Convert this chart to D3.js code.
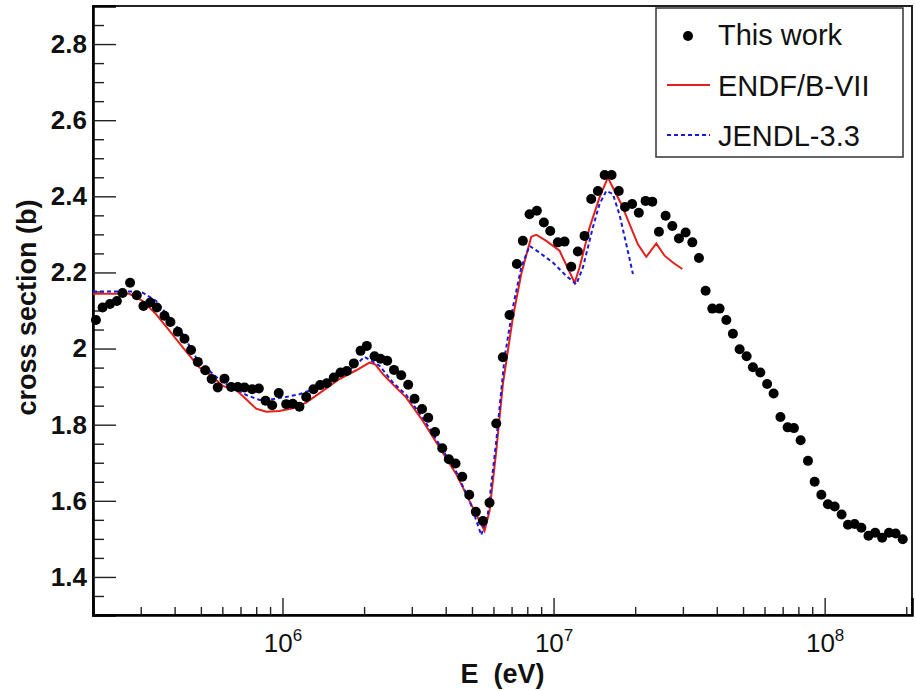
<!DOCTYPE html>
<html>
<head>
<meta charset="utf-8">
<script src="https://cdn.jsdelivr.net/npm/d3@7"></script>
<style>
  body { margin: 0; background: #fff; }
  svg text { font-family: "Liberation Sans", Arial, Helvetica, sans-serif; }
</style>
</head>
<body>
<svg id="chart" width="916" height="691"></svg>
<script>
// measured points, energy in eV and cross section in barn
var workE = [2.05e5, 2.17e5, 2.31e5, 2.45e5, 2.57e5, 2.74e5, 2.90e5, 3.07e5, 3.25e5, 3.44e5,
  3.67e5, 3.86e5, 4.11e5, 4.35e5, 4.60e5, 4.87e5, 5.19e5, 5.48e5, 5.77e5, 6.11e5,
  6.47e5, 6.84e5, 7.24e5, 7.73e5, 8.18e5, 8.66e5, 9.16e5, 9.69e5, 1.032e6, 1.091e6,
  1.155e6, 1.223e6, 1.301e6, 1.377e6, 1.457e6, 1.546e6, 1.637e6, 1.727e6, 1.833e6, 1.941e6,
  2.047e6, 2.185e6, 2.299e6, 2.434e6, 2.578e6, 2.742e6, 2.909e6, 3.070e6, 3.272e6, 3.449e6,
  3.654e6, 3.885e6, 4.109e6, 4.349e6, 4.604e6, 4.885e6, 5.167e6, 5.484e6, 5.804e6, 6.146e6,
  6.500e6, 6.880e6, 7.321e6, 7.703e6, 8.153e6, 8.679e6, 9.209e6, 9.723e6, 1.037e7, 1.098e7,
  1.162e7, 1.229e7, 1.301e7, 1.377e7, 1.457e7, 1.543e7, 1.637e7, 1.740e7, 1.835e7, 1.949e7,
  2.063e7, 2.185e7, 2.313e7, 2.447e7, 2.590e7, 2.742e7, 2.900e7, 3.070e7, 3.250e7, 3.438e7,
  3.638e7, 3.851e7, 4.097e7, 4.338e7, 4.587e7, 4.857e7, 5.154e7, 5.437e7, 5.790e7, 6.134e7,
  6.483e7, 6.869e7, 7.302e7, 7.703e7, 8.153e7, 8.679e7, 9.186e7, 9.723e7, 1.028e8, 1.089e8,
  1.155e8, 1.219e8, 1.290e8, 1.366e8, 1.451e8, 1.536e8, 1.630e8, 1.727e8, 1.828e8, 1.941e8];
var workXs = [2.075, 2.108, 2.117, 2.125, 2.146, 2.173, 2.140, 2.112, 2.121, 2.108,
  2.086, 2.070, 2.044, 2.026, 1.996, 1.965, 1.943, 1.920, 1.898, 1.921,
  1.899, 1.899, 1.898, 1.893, 1.895, 1.863, 1.851, 1.883, 1.854, 1.855,
  1.847, 1.873, 1.893, 1.904, 1.909, 1.924, 1.937, 1.941, 1.961, 1.994,
  2.007, 1.980, 1.973, 1.968, 1.944, 1.930, 1.905, 1.868, 1.841, 1.818,
  1.781, 1.738, 1.709, 1.698, 1.663, 1.616, 1.571, 1.547, 1.595, 1.803,
  1.977, 2.088, 2.222, 2.283, 2.353, 2.362, 2.331, 2.309, 2.279, 2.281,
  2.215, 2.255, 2.296, 2.393, 2.414, 2.456, 2.456, 2.414, 2.372, 2.380,
  2.357, 2.388, 2.386, 2.307, 2.349, 2.322, 2.289, 2.305, 2.279, 2.238,
  2.152, 2.105, 2.105, 2.075, 2.039, 1.998, 1.980, 1.951, 1.937, 1.907,
  1.882, 1.820, 1.793, 1.791, 1.759, 1.705, 1.650, 1.616, 1.591, 1.585,
  1.564, 1.537, 1.539, 1.529, 1.508, 1.516, 1.503, 1.516, 1.514, 1.499];

// ENDF/B-VII evaluation
var endfE = [2.0e5, 2.725e5, 3.051e5, 3.42e5, 3.828e5, 4.287e5, 4.94e5, 5.378e5, 6.021e5, 6.748e5,
  7.346e5, 7.998e5, 8.707e5, 9.748e5, 1.091e6, 1.223e6, 1.408e6, 1.623e6, 1.871e6, 2.094e6,
  2.203e6, 2.345e6, 2.553e6, 2.861e6, 3.294e6, 3.796e6, 4.375e6, 5.037e6, 5.565e6, 5.804e6,
  6.146e6, 6.5e6, 7.076e6, 7.599e6, 8.276e6, 8.635e6, 9.399e6, 1.052e7, 1.196e7, 1.247e7,
  1.358e7, 1.478e7, 1.586e7, 1.679e7, 1.777e7, 1.907e7, 2.047e7, 2.198e7, 2.393e7, 2.568e7,
  2.755e7, 2.985e7];
var endfXs = [2.144, 2.144, 2.125, 2.090, 2.047, 2.003, 1.950, 1.933, 1.902, 1.891,
  1.867, 1.842, 1.834, 1.836, 1.843, 1.858, 1.889, 1.920, 1.943, 1.963,
  1.958, 1.933, 1.906, 1.871, 1.810, 1.740, 1.670, 1.582, 1.521, 1.573,
  1.731, 1.906, 2.081, 2.196, 2.294, 2.299, 2.283, 2.257, 2.173, 2.213,
  2.318, 2.397, 2.449, 2.414, 2.380, 2.327, 2.274, 2.241, 2.276, 2.244,
  2.226, 2.209];

// JENDL-3.3 evaluation
var jendlE = [2.0e5, 2.844e5, 3.051e5, 3.42e5, 3.828e5, 4.287e5, 4.803e5, 5.378e5, 6.021e5, 6.748e5,
  7.346e5, 8.226e5, 9.209e5, 1.032e6, 1.155e6, 1.294e6, 1.45e6, 1.623e6, 1.817e6, 2.007e6,
  2.28e6, 2.553e6, 2.861e6, 3.294e6, 3.796e6, 4.375e6, 4.898e6, 5.411e6, 5.722e6, 6.146e6,
  6.595e6, 7.076e6, 7.599e6, 8.153e6, 8.879e6, 9.94e6, 1.114e7, 1.213e7, 1.283e7, 1.396e7,
  1.478e7, 1.565e7, 1.655e7, 1.752e7, 1.855e7, 1.962e7];
var jendlXs = [2.150, 2.150, 2.147, 2.125, 2.081, 2.038, 1.976, 1.941, 1.911, 1.893,
  1.878, 1.865, 1.867, 1.873, 1.880, 1.893, 1.911, 1.928, 1.950, 1.978,
  1.955, 1.911, 1.878, 1.818, 1.747, 1.676, 1.600, 1.510, 1.565, 1.757,
  1.976, 2.108, 2.213, 2.270, 2.252, 2.226, 2.191, 2.169, 2.213, 2.318,
  2.380, 2.414, 2.406, 2.351, 2.274, 2.196];

var yMajorTicks = [1.4, 1.6, 1.8, 2, 2.2, 2.4, 2.6, 2.8];
var yMinorTicks = [1.3, 1.35, 1.45, 1.5, 1.55, 1.65, 1.7, 1.75, 1.85, 1.9, 1.95, 2.05, 2.1, 2.15,
  2.25, 2.3, 2.35, 2.45, 2.5, 2.55, 2.65, 2.7, 2.75, 2.85];
var xMajorTicks = [1e6, 1e7, 1e8];
var xMinorTicks = [2e5, 3e5, 4e5, 5e5, 6e5, 7e5, 8e5, 9e5, 2e6, 3e6, 4e6, 5e6, 6e6, 7e6, 8e6, 9e6,
  2e7, 3e7, 4e7, 5e7, 6e7, 7e7, 8e7, 9e7, 2e8];
var legendNames = ["This work", "ENDF/B-VII", "JENDL-3.3"];

// plot area
var margin = {top: 6, right: 4, bottom: 76, left: 93},
  width = 916 - margin.left - margin.right,
  height = 691 - margin.top - margin.bottom;

var x = d3.scaleLog().domain([2e5, 2.1e8]).range([0, width]);
var y = d3.scaleLinear().domain([1.3, 2.9]).range([height, 0]);

var svg = d3.select("#chart")
  .append("g")
  .attr("transform", "translate(" + margin.left + "," + margin.top + ")");

// frame
svg.append("rect")
  .attr("width", width)
  .attr("height", height)
  .attr("fill", "none")
  .attr("stroke", "#222")
  .attr("stroke-width", 2);

// y axis, ticks pointing inward
svg.append("g")
  .call(d3.axisLeft(y).tickValues(yMinorTicks).tickSize(-11).tickFormat(""))
  .call(function(g) { g.select(".domain").remove(); });
var yAxis = svg.append("g")
  .call(d3.axisLeft(y).tickValues(yMajorTicks).tickSize(-23).tickPadding(6)
    .tickFormat(d3.format("~g")));
yAxis.select(".domain").attr("stroke-width", 2.6);
yAxis.selectAll(".tick line").attr("stroke-width", 1.6);
yAxis.selectAll("text")
  .attr("font-size", 26)
  .attr("font-weight", "bold")
  .attr("fill", "#111");
svg.selectAll(".tick line").attr("stroke", "#222");

// x axis
var xMinor = svg.append("g")
  .attr("transform", "translate(0," + height + ")")
  .call(d3.axisBottom(x).tickValues(xMinorTicks).tickSize(-8).tickFormat(""));
xMinor.select(".domain").remove();
var xAxis = svg.append("g")
  .attr("transform", "translate(0," + height + ")")
  .call(d3.axisBottom(x).tickValues(xMajorTicks).tickSize(-17).tickFormat(""));
xAxis.select(".domain").attr("stroke-width", 2.6);
svg.selectAll(".tick line").attr("stroke", "#222").attr("stroke-width", 1.4);

// x labels as 10^n
xAxis.selectAll(".tick").each(function(d) {
  var t = d3.select(this).append("text")
    .attr("y", 37)
    .attr("text-anchor", "middle")
    .attr("fill", "#111")
    .attr("font-size", 26);
  t.append("tspan").text("10");
  t.append("tspan")
    .attr("font-size", 17)
    .attr("dy", -11)
    .text(Math.round(Math.log10(d)));
});

// axis titles
svg.append("text")
  .attr("x", width / 2)
  .attr("y", height + 68)
  .attr("text-anchor", "middle")
  .attr("font-size", 27)
  .attr("font-weight", "bold")
  .attr("fill", "#111")
  .style("white-space", "pre")
  .text("E  (eV)");
svg.append("text")
  .attr("transform", "rotate(-90)")
  .attr("x", -height / 2 + 3)
  .attr("y", -57)
  .attr("text-anchor", "middle")
  .attr("font-size", 27)
  .attr("font-weight", "bold")
  .attr("fill", "#111")
  .text("cross section (b)");

// curves
var endf = endfE.map(function(e, i) { return [e, endfXs[i]]; });
var jendl = jendlE.map(function(e, i) { return [e, jendlXs[i]]; });
var line = d3.line()
  .x(function(d) { return x(d[0]); })
  .y(function(d) { return y(d[1]); });

svg.append("path")
  .attr("d", line(endf))
  .attr("fill", "none")
  .attr("stroke", "#e3201b")
  .attr("stroke-width", 2);
svg.append("path")
  .attr("d", line(jendl))
  .attr("fill", "none")
  .attr("stroke", "#1a1ad6")
  .attr("stroke-width", 2)
  .attr("stroke-dasharray", "4,3");

// measured dots
svg.selectAll("circle.work")
  .data(workE)
  .enter().append("circle")
  .attr("class", "work")
  .attr("cx", function(d) { return x(d); })
  .attr("cy", function(d, i) { return y(workXs[i]); })
  .attr("r", 5)
  .attr("fill", "#000");

// legend
var legend = svg.append("g")
  .attr("transform", "translate(" + (656 - margin.left) + "," + (8 - margin.top) + ")");
legend.append("rect")
  .attr("width", 247)
  .attr("height", 149)
  .attr("fill", "#fff")
  .attr("stroke", "#333")
  .attr("stroke-width", 1.5);
legend.append("circle")
  .attr("cx", 32).attr("cy", 28).attr("r", 5).attr("fill", "#000");
legend.append("line")
  .attr("x1", 11).attr("x2", 54).attr("y1", 77).attr("y2", 77)
  .attr("stroke", "#e3201b").attr("stroke-width", 2);
legend.append("line")
  .attr("x1", 11).attr("x2", 54).attr("y1", 127).attr("y2", 127)
  .attr("stroke", "#1a1ad6").attr("stroke-width", 2)
  .attr("stroke-dasharray", "4,3");
legend.selectAll("text.name")
  .data(legendNames)
  .enter().append("text")
  .attr("class", "name")
  .attr("x", 62)
  .attr("y", function(d, i) { return 37 + i * 50.5; })
  .attr("font-size", 29)
  .attr("fill", "#111")
  .text(function(d) { return d; });
</script>
</body>
</html>
